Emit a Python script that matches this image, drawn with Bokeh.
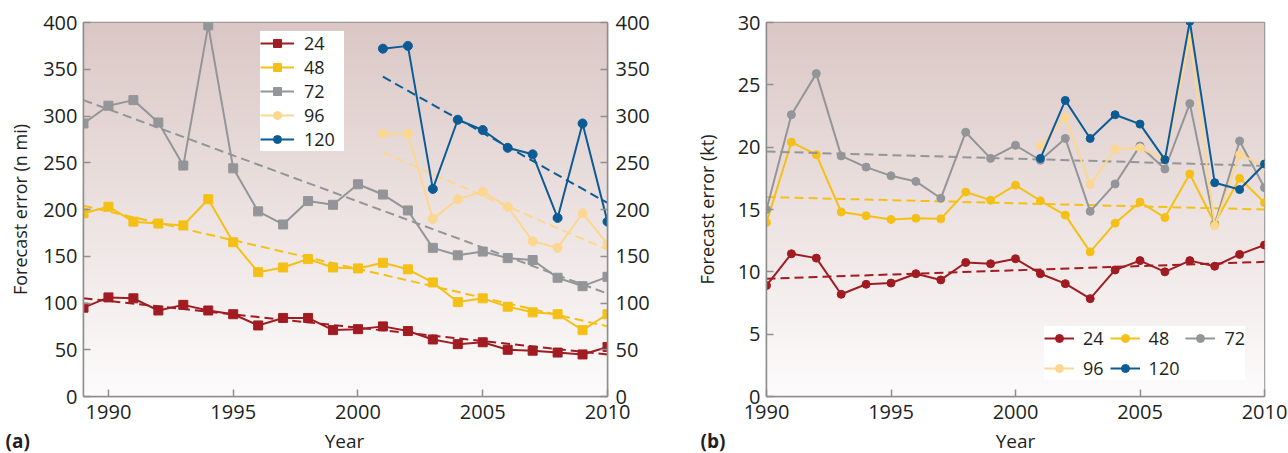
import numpy as np
from bokeh.plotting import figure
from bokeh.models import LinearAxis, Legend, LegendItem, Label, FixedTicker
from bokeh.layouts import row, column
from bokeh.embed import file_html
from bokeh.resources import INLINE

# ---------------- data: panel (a) track error (n mi) ----------------
years_a = list(range(1989, 2011))
years_a_long = list(range(2001, 2011))
track_24 = [95, 106, 105, 92, 98, 92, 88, 76, 84, 84, 71, 72, 75, 70, 61, 56, 58, 50, 49, 47, 45, 53]
track_48 = [196, 203, 187, 185, 183, 211, 165, 133, 138, 147, 138, 137, 143, 136, 122, 101, 105, 96, 90, 88, 71, 88]
track_72 = [292, 311, 317, 293, 247, 397, 244, 198, 184, 209, 205, 227, 216, 199, 159, 151, 155, 148, 146, 127, 118, 128]
track_96 = [281, 281, 190, 211, 219, 203, 166, 159, 196, 163]
track_120 = [372, 375, 222, 296, 285, 266, 259, 191, 292, 187]
# trend line end points
trend_a_x = [1989, 2010]
trend_a_x_long = [2001, 2010]
trend_track_24 = [105, 45]
trend_track_48 = [204, 75]
trend_track_72 = [317, 110]
trend_track_96 = [261, 157]
trend_track_120 = [342, 207]

# ---------------- data: panel (b) intensity error (kt) ----------------
years_b = list(range(1990, 2011))
years_b_long = list(range(2001, 2011))
int_24 = [8.9, 11.45, 11.1, 8.2, 9.0, 9.1, 9.85, 9.35, 10.75, 10.65, 11.05, 9.85, 9.05, 7.85, 10.15, 10.9, 10.0, 10.9, 10.45, 11.4, 12.15]
int_48 = [13.95, 20.4, 19.4, 14.8, 14.5, 14.2, 14.3, 14.25, 16.4, 15.75, 16.95, 15.7, 14.55, 11.6, 13.9, 15.6, 14.35, 17.85, 13.9, 17.5, 15.55]
int_72 = [15.0, 22.6, 25.9, 19.3, 18.4, 17.7, 17.25, 15.9, 21.2, 19.1, 20.15, 18.95, 20.7, 14.85, 17.05, 20.1, 18.25, 23.5, 13.8, 20.5, 16.75]
int_96 = [20.1, 22.4, 17.0, 19.85, 19.95, 19.0, 28.8, 13.7, 19.4, 18.5]
int_120 = [19.1, 23.75, 20.7, 22.6, 21.85, 19.0, 30.1, 17.15, 16.6, 18.65]
trend_b_x = [1990, 2010]
trend_int_24 = [9.45, 10.8]
trend_int_48 = [16.0, 15.0]
trend_int_72 = [19.65, 18.5]

labels = ["24", "48", "72", "96", "120"]
colors = ["#a01c22", "#f5c016", "#939598", "#fcd790", "#0d5b94"]
x_ticks = [1990, 1995, 2000, 2005, 2010]
ya_ticks = list(range(0, 401, 50))
yb_ticks = list(range(0, 31, 5))
captions = ["(a)", "(b)"]
x_title = "Year"

FONT = "Open Sans"
TXT = "#231f20"
FRAME = "#8e8e8e"
HEIGHT = 431
CAP_H = 28
OVERLAP = 6
W_A, W_B = 690, 598


def gradient(n=240):
    top = np.array([219, 200, 198])
    bot = np.array([253, 252, 252])
    t = np.linspace(0, 1, n)[:, None]
    rgb = (bot + (top - bot) * t).astype(np.uint8)
    img = np.empty((n, 1), dtype=np.uint32)
    v = img.view(dtype=np.uint8).reshape((n, 1, 4))
    v[:, 0, 0] = rgb[:, 0]
    v[:, 0, 1] = rgb[:, 1]
    v[:, 0, 2] = rgb[:, 2]
    v[:, 0, 3] = 255
    return img


def style_axis(ax, ticks):
    ax.ticker = FixedTicker(ticks=ticks)
    ax.axis_line_color = FRAME
    ax.axis_line_width = 1.5
    ax.major_tick_line_color = FRAME
    ax.major_tick_line_width = 1.5
    ax.major_tick_in = 7
    ax.major_tick_out = 0
    ax.minor_tick_line_color = None
    ax.major_label_text_font = FONT
    ax.major_label_text_font_size = "20px"
    ax.major_label_text_color = TXT
    ax.axis_label_text_font = FONT
    ax.axis_label_text_font_size = "18px"
    ax.axis_label_text_color = TXT
    ax.axis_label_text_font_style = "normal"


def make_fig(width, xr, yr, bl, br):
    p = figure(width=width, height=HEIGHT, x_range=xr, y_range=yr,
               output_backend="svg", toolbar_location=None,
               min_border_left=bl, min_border_right=br,
               min_border_top=22, min_border_bottom=HEIGHT - 396)
    p.grid.visible = False
    p.outline_line_color = FRAME
    p.outline_line_width = 1.5
    p.background_fill_color = "white"
    p.border_fill_color = "white"
    p.image_rgba(image=[gradient()], x=xr[0], y=yr[0], dw=xr[1] - xr[0], dh=yr[1] - yr[0])
    return p


def style_legend(leg, size, gw):
    leg.label_text_font = FONT
    leg.label_text_font_size = size
    leg.label_text_color = TXT
    leg.glyph_width = gw
    leg.glyph_height = 20
    leg.label_height = 20
    leg.label_standoff = 9
    leg.spacing = 0
    leg.margin = 0
    leg.border_line_color = None
    leg.background_fill_color = "white"
    leg.background_fill_alpha = 1.0


# ---------------- panel (a) ----------------
pa = make_fig(W_A, (1989, 2010), (0, 400), 83, 83)
style_axis(pa.xaxis[0], x_ticks)
style_axis(pa.yaxis[0], ya_ticks)
pa.yaxis[0].axis_label = "Forecast error (n mi)"
pa.yaxis[0].major_label_standoff = 6
pa.yaxis[0].axis_label_standoff = 8
pa.xaxis[0].major_label_standoff = 8
ra = LinearAxis()
style_axis(ra, ya_ticks)
ra.major_label_standoff = 8
pa.add_layout(ra, "right")

series_a = [(years_a, track_24, trend_a_x, trend_track_24),
            (years_a, track_48, trend_a_x, trend_track_48),
            (years_a, track_72, trend_a_x, trend_track_72),
            (years_a_long, track_96, trend_a_x_long, trend_track_96),
            (years_a_long, track_120, trend_a_x_long, trend_track_120)]
items_a = []
for i, (xs, ys, tx, ty) in enumerate(series_a):
    marker = "square" if i < 3 else "circle"
    pa.line(tx, ty, line_color=colors[i], line_width=2, line_dash="9 5")
    l = pa.line(xs, ys, line_color=colors[i], line_width=2)
    s = pa.scatter(xs, ys, marker=marker, size=9,
                   fill_color=colors[i], line_color=colors[i])
    items_a.append(LegendItem(label=labels[i], renderers=[l, s]))

leg_a = Legend(items=items_a, location=(177, 245))
style_legend(leg_a, "18px", 34)
leg_a.padding = 10
leg_a.label_standoff = 10
leg_a.label_width = 40
pa.add_layout(leg_a)

# ---------------- panel (b) ----------------
pb = make_fig(W_B, (1990, 2010), (0, 30), 76, 24)
style_axis(pb.xaxis[0], x_ticks)
style_axis(pb.yaxis[0], yb_ticks)
pb.yaxis[0].axis_label = "Forecast error (kt)"
pb.yaxis[0].major_label_standoff = 6
pb.yaxis[0].axis_label_standoff = 16
pb.xaxis[0].major_label_standoff = 8

series_b = [(years_b, int_24, trend_b_x, trend_int_24),
            (years_b, int_48, trend_b_x, trend_int_48),
            (years_b, int_72, trend_b_x, trend_int_72),
            (years_b_long, int_96, None, None),
            (years_b_long, int_120, None, None)]
items_b = []
for i, (xs, ys, tx, ty) in enumerate(series_b):
    if tx is not None:
        pb.line(tx, ty, line_color=colors[i], line_width=2, line_dash="9 5")
    l = pb.line(xs, ys, line_color=colors[i], line_width=2)
    s = pb.scatter(xs, ys, marker="circle", size=8, fill_color=colors[i], line_color=colors[i])
    items_b.append(LegendItem(label=labels[i], renderers=[l, s]))

leg_b = Legend(items=items_b, location=(278, 16), orientation="horizontal", nrows=2)
style_legend(leg_b, "18px", 30)
leg_b.padding = 7
leg_b.spacing = 6
pb.add_layout(leg_b)

# ---------------- caption strip: x-axis titles and panel tags ----------------
W = W_A + W_B
cap = figure(width=W, height=CAP_H, x_range=(0, W), y_range=(0, CAP_H),
             output_backend="svg", toolbar_location=None,
             min_border=0, min_border_left=0, min_border_right=0,
             min_border_top=0, min_border_bottom=0)
cap.axis.visible = False
cap.grid.visible = False
cap.outline_line_color = None
cap.background_fill_alpha = 0
cap.border_fill_alpha = 0
try:
    cap.margin = (-OVERLAP, 0, 0, 0)
except Exception:
    pass
for tag, tag_x, year_x in ((captions[0], 5, 344), (captions[1], W_A + 10, 1015)):
    cap.add_layout(Label(x=year_x, y=CAP_H - 15, text=x_title, text_font=FONT,
                         text_font_size="19px", text_color=TXT,
                         text_align="center", text_baseline="middle"))
    cap.add_layout(Label(x=tag_x, y=CAP_H - 15, text=tag, text_font=FONT,
                         text_font_size="19px", text_font_style="bold", text_color=TXT,
                         text_align="left", text_baseline="middle"))

layout = column(row(pa, pb), cap)
open("out.html", "w").write(file_html(layout, INLINE))
